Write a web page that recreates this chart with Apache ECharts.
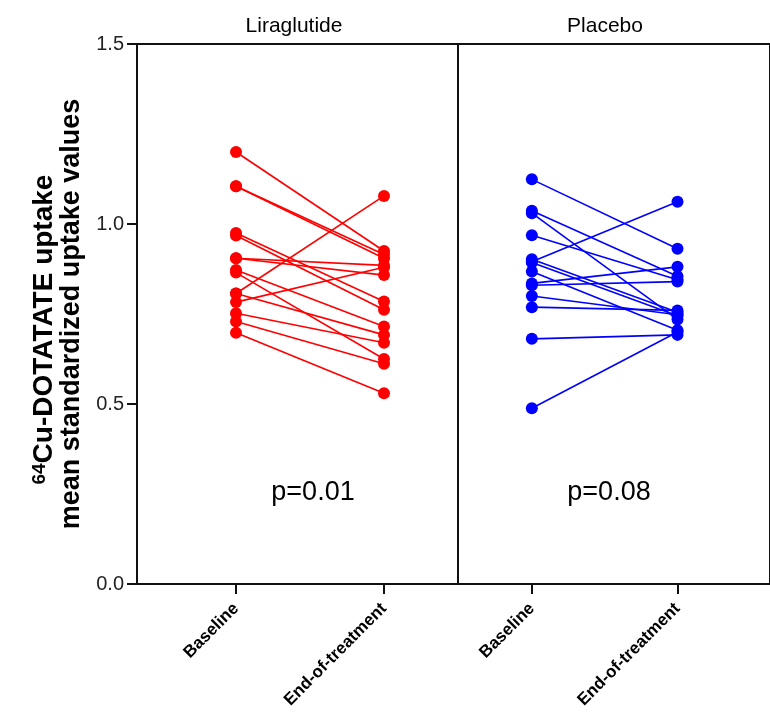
<!DOCTYPE html>
<html>
<head>
<meta charset="utf-8">
<script src="https://cdn.jsdelivr.net/npm/echarts@6/dist/echarts.min.js"></script>
<style>
  html, body { margin: 0; padding: 0; background: #fff; }
  #main { width: 770px; height: 715px; }
</style>
</head>
<body>
<div id="main"></div>
<script>
// paired values per subject
var timepoints = ['Baseline', 'End-of-treatment'];
var panels = ['Liraglutide', 'Placebo'];
var pValues = ['p=0.01', 'p=0.08'];
var yTicks = [0, 0.5, 1.0, 1.5];

var ligBase = [1.20, 1.105, 1.105, 0.975, 0.968, 0.905, 0.905, 0.872, 0.865, 0.807, 0.807, 0.783, 0.752, 0.729, 0.698];
var ligEnd  = [0.925, 0.915, 0.905, 0.785, 0.762, 0.885, 0.858, 0.715, 0.625, 1.078, 0.692, 0.880, 0.670, 0.612, 0.530];

var plaBase = [1.124, 1.037, 1.030, 0.969, 0.902, 0.895, 0.893, 0.868, 0.835, 0.830, 0.800, 0.769, 0.681, 0.488];
var plaEnd  = [0.931, 0.855, 0.735, 0.845, 0.755, 1.062, 0.745, 0.705, 0.881, 0.840, 0.748, 0.760, 0.692, 0.700];

var FONT = 'Liberation Sans, Arial, sans-serif';

var myChart = echarts.init(document.getElementById('main'));

function pairSeries(base, end, color, idx) {
    return base.map(function (b, i) {
        return {
            type: 'line',
            xAxisIndex: idx,
            yAxisIndex: idx,
            data: [[0, b], [1, end[i]]],
            symbol: 'circle',
            symbolSize: 12,
            lineStyle: { color: color, width: 1.6 },
            itemStyle: { color: color },
            silent: true,
            animation: false
        };
    });
}

function xAxisFor(idx, min, max) {
    return {
        type: 'value',
        gridIndex: idx,
        min: min,
        max: max,
        splitLine: { show: false },
        axisLine: { show: true, onZero: false, lineStyle: { color: '#111', width: 2 } },
        axisTick: { show: true, customValues: [0, 1], length: 10, lineStyle: { color: '#111', width: 2 } },
        axisLabel: {
            customValues: [0, 1],
            rotate: 45,
            margin: 22,
            formatter: function (v) { return timepoints[Math.round(v)]; },
            fontFamily: FONT,
            fontWeight: 'bold',
            fontSize: 17,
            color: '#000'
        }
    };
}

var option = {
    backgroundColor: '#fff',
    grid: [
        { left: 137, top: 44, width: 321, height: 540, show: true, borderColor: '#111', borderWidth: 2 },
        { left: 458, top: 44, width: 317, height: 540, show: true, borderColor: '#111', borderWidth: 2 }
    ],
    xAxis: [
        xAxisFor(0, -0.669, 1.5),
        xAxisFor(1, -0.507, 1.635)
    ],
    yAxis: [
        {
            type: 'value',
            gridIndex: 0,
            min: yTicks[0],
            max: yTicks[yTicks.length - 1],
            interval: 0.5,
            splitLine: { show: false },
            axisLine: { show: true, onZero: false, lineStyle: { color: '#111', width: 2 } },
            axisTick: { show: true, length: 10, lineStyle: { color: '#111', width: 2 } },
            axisLabel: {
                formatter: function (v) { return v.toFixed(1); },
                fontFamily: FONT,
                fontSize: 20,
                color: '#222',
                margin: 13
            },
            name: '{sup|64}{t|Cu-DOTATATE uptake    }\n{b|mean standardized uptake values}',
            nameLocation: 'middle',
            nameGap: 51,
            nameTextStyle: {
                lineHeight: 28,
                rich: {
                    t: { fontFamily: FONT, fontWeight: 'bold', fontSize: 28, color: '#000', lineHeight: 28 },
                    b: { fontFamily: FONT, fontWeight: 'bold', fontSize: 27, color: '#000', lineHeight: 28 },
                    sup: { fontFamily: FONT, fontWeight: 'bold', fontSize: 19, color: '#000', verticalAlign: 'top', lineHeight: 28 }
                }
            }
        },
        {
            type: 'value',
            gridIndex: 1,
            min: yTicks[0],
            max: yTicks[yTicks.length - 1],
            interval: 0.5,
            show: false
        }
    ],
    graphic: [
        { type: 'text', x: 294, y: 26, style: { text: panels[0], font: '21px "Liberation Sans", Arial, sans-serif', fill: '#000', textAlign: 'center', textVerticalAlign: 'middle' } },
        { type: 'text', x: 605, y: 26, style: { text: panels[1], font: '21px "Liberation Sans", Arial, sans-serif', fill: '#000', textAlign: 'center', textVerticalAlign: 'middle' } },
        { type: 'text', x: 313, y: 493, style: { text: pValues[0], font: '27px "Liberation Sans", Arial, sans-serif', fill: '#000', textAlign: 'center', textVerticalAlign: 'middle' } },
        { type: 'text', x: 609, y: 493, style: { text: pValues[1], font: '27px "Liberation Sans", Arial, sans-serif', fill: '#000', textAlign: 'center', textVerticalAlign: 'middle' } }
    ],
    series: pairSeries(ligBase, ligEnd, '#ff0000', 0).concat(pairSeries(plaBase, plaEnd, '#0000ff', 1))
};

myChart.setOption(option);
</script>
</body>
</html>
